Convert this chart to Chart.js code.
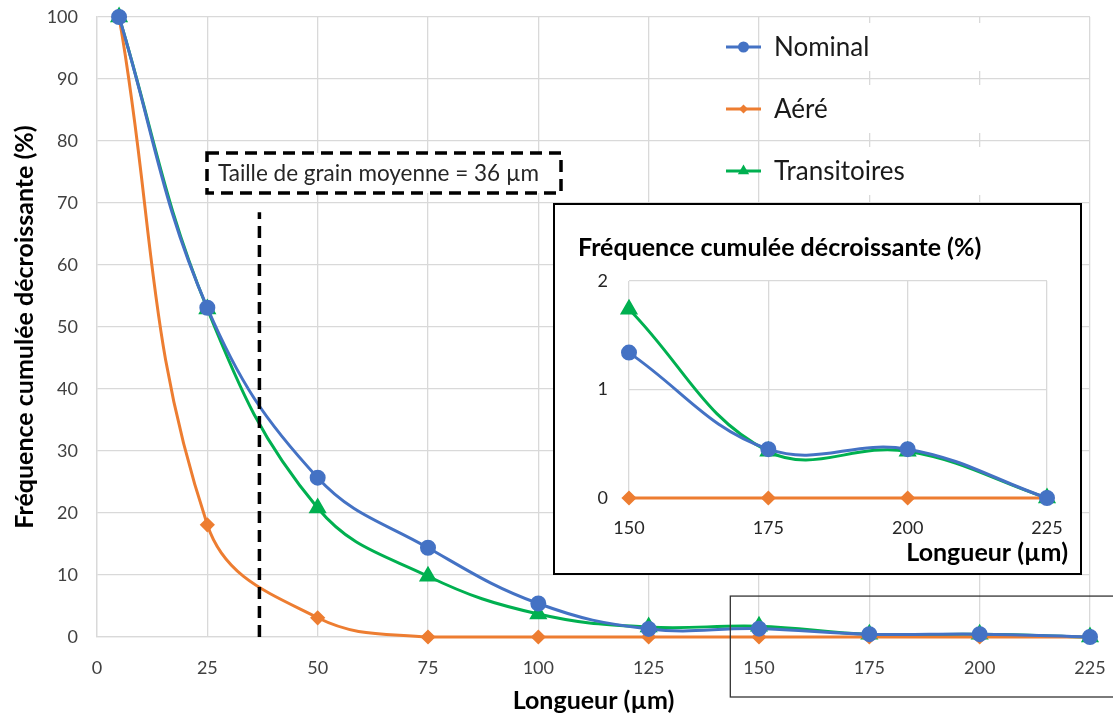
<!DOCTYPE html>
<html>
<head>
<meta charset="utf-8">
<script src="https://cdn.jsdelivr.net/npm/chart.js@4.4.1/dist/chart.umd.min.js"></script>
<style>
  html, body { margin: 0; padding: 0; background: #fff; }
  #wrap { position: relative; width: 1113px; height: 716px; overflow: hidden; }
  #main { position: absolute; left: 0; top: 0; }
  #insetBox { position: absolute; left: 553px; top: 203px; width: 529px; height: 372px;
    box-sizing: border-box; border: 2px solid #000; background: #fff; }
  #inset { display: block; }
</style>
</head>
<body>
<div id="wrap">
  <canvas id="main" width="1113" height="716"></canvas>
  <div id="insetBox"><canvas id="inset" width="525" height="368"></canvas></div>
</div>
<script>
// longueur des grains (µm) et frequence cumulee decroissante (%)
const lengths = [5, 25, 50, 75, 100, 125, 150, 175, 200, 225]
const nominal = [100, 53.1, 25.7, 14.4, 5.4, 1.3, 1.34, 0.45, 0.45, 0]
const aere = [100, 18.1, 3.1, 0, 0, 0, 0, 0, 0, 0]
const transitoires = [100, 52.9, 20.8, 9.8, 3.7, 1.6, 1.74, 0.43, 0.43, 0]

const seriesNames = ['Nominal', 'Aéré', 'Transitoires']
const seriesColors = ['#4472C4', '#ED7D31', '#00B050']
const pointStyles = ['circle', 'rectRot', 'triangle']
const pointSizes = [6.5, 5.5, 7.5]

const meanGrain = 36.8     // position of the dashed line
const meanGrainTop = 68.5  // dashed line stops under the label
const insetFrom = 150      // inset shows the tail of the curves
const zoomFrom = 143.5
const zoomTop = 6.6

const FONT = 'Lato, "Open Sans", sans-serif'
const GRID = '#D9D9D9'

function makeDatasets(fromIdx) {
  const all = [nominal, aere, transitoires]
  return all.map((vals, i) => ({
    label: seriesNames[i],
    data: lengths.slice(fromIdx).map((x, k) => ({ x: x, y: vals[fromIdx + k] })),
    borderColor: seriesColors[i],
    backgroundColor: seriesColors[i],
    borderWidth: 3,
    pointStyle: pointStyles[i],
    pointRadius: pointSizes[i],
    pointHoverRadius: pointSizes[i],
    tension: 0.4,
    clip: false
  }))
}

// keep the plot area where I put it, no extra room for edge labels
function fixV(width) {
  return s => { s.width = width; s.paddingTop = 0; s.paddingBottom = 0 }
}
function fixH(height) {
  return s => { s.height = height; s.paddingLeft = 0; s.paddingRight = 0 }
}

// legend + mean grain marker + zoom frame, drawn on the main chart
const mainExtras = {
  id: 'mainExtras',
  afterDatasetsDraw(chart) {
    const ctx = chart.ctx
    const xs = chart.scales.x
    const ys = chart.scales.y
    ctx.save()

    // dashed line at the mean grain size
    const gx = xs.getPixelForValue(meanGrain)
    ctx.strokeStyle = '#000'
    ctx.lineWidth = 3.5
    ctx.setLineDash([12, 7])
    ctx.beginPath()
    ctx.moveTo(gx, ys.getPixelForValue(0))
    ctx.lineTo(gx, ys.getPixelForValue(meanGrainTop))
    ctx.stroke()

    // label box
    ctx.fillStyle = '#fff'
    ctx.fillRect(207, 153, 354, 40)
    ctx.strokeRect(207, 153, 354, 40)
    ctx.setLineDash([])
    ctx.fillStyle = '#262626'
    ctx.font = '22.5px ' + FONT
    ctx.textBaseline = 'middle'
    ctx.fillText('Taille de grain moyenne = 36 µm', 218, 174)

    // zoom frame around the tail
    ctx.strokeStyle = '#333'
    ctx.lineWidth = 1.3
    const zx = xs.getPixelForValue(zoomFrom)
    const zy = ys.getPixelForValue(zoomTop)
    ctx.strokeRect(zx, zy, chart.width + 10 - zx, 697 - zy)

    // legend
    seriesNames.forEach((name, i) => {
      const y = 47 + 62 * i
      ctx.fillStyle = '#fff'
      ctx.fillRect(765, y - 24, 245, 48)
      ctx.strokeStyle = seriesColors[i]
      ctx.lineWidth = 3
      ctx.beginPath()
      ctx.moveTo(726, y)
      ctx.lineTo(761, y)
      ctx.stroke()
      ctx.fillStyle = seriesColors[i]
      Chart.helpers.drawPoint(ctx, { pointStyle: pointStyles[i], radius: pointSizes[i] - 1, rotation: 0 }, 743.5, y)
      ctx.fillStyle = '#1a1a1a'
      ctx.font = '26px ' + FONT
      ctx.fillText(name, 774, y + 1)
    })
    ctx.restore()
  }
}

new Chart(document.getElementById('main'), {
  type: 'line',
  data: { datasets: makeDatasets(0) },
  plugins: [mainExtras],
  options: {
    responsive: false,
    animation: false,
    layout: { autoPadding: false, padding: { top: 17, right: 23, left: 0, bottom: 0 } },
    plugins: { legend: { display: false }, tooltip: { enabled: false } },
    scales: {
      x: {
        type: 'linear', min: 0, max: 225,
        afterFit: fixH(79),
        grid: { color: GRID, lineWidth: 1.3, drawTicks: false },
        border: { color: GRID, width: 1.3 },
        ticks: { stepSize: 25, padding: 20, color: '#404040', font: { family: FONT, size: 18 } },
        title: { display: true, text: 'Longueur (µm)', color: '#000',
          font: { family: FONT, size: 25, weight: 'bold' }, padding: { top: 0, bottom: 0 } }
      },
      y: {
        min: 0, max: 100,
        afterFit: fixV(97),
        grid: { color: GRID, lineWidth: 1.3, drawTicks: false },
        border: { color: GRID, width: 1.3 },
        ticks: { stepSize: 10, padding: 19, color: '#404040', font: { family: FONT, size: 18 } },
        title: { display: true, text: 'Fréquence cumulée décroissante (%)', color: '#000',
          font: { family: FONT, size: 25, weight: 'bold' }, padding: { top: 10, bottom: 0 } }
      }
    }
  }
})

// inset titles
const insetText = {
  id: 'insetText',
  afterDraw(chart) {
    const ctx = chart.ctx
    ctx.save()
    ctx.fillStyle = '#000'
    ctx.font = 'bold 25px ' + FONT
    ctx.textBaseline = 'middle'
    ctx.textAlign = 'left'
    ctx.fillText('Fréquence cumulée décroissante (%)', 23, 43)
    ctx.textAlign = 'right'
    ctx.fillText('Longueur (µm)', 513, 348)
    ctx.restore()
  }
}

const startIdx = lengths.indexOf(insetFrom)
new Chart(document.getElementById('inset'), {
  type: 'line',
  data: { datasets: makeDatasets(startIdx) },
  plugins: [insetText],
  options: {
    responsive: false,
    animation: false,
    layout: { autoPadding: false, padding: { top: 76, right: 33, left: 0, bottom: 0 } },
    plugins: { legend: { display: false }, tooltip: { enabled: false } },
    scales: {
      x: {
        type: 'linear', min: 150, max: 225,
        afterFit: fixH(75),
        grid: { color: GRID, lineWidth: 1.3, drawTicks: false },
        border: { display: false },
        ticks: { stepSize: 25, padding: 19, color: '#262626', font: { family: FONT, size: 18 } }
      },
      y: {
        min: 0, max: 2,
        afterFit: fixV(74),
        grid: { color: GRID, lineWidth: 1.3, drawTicks: false },
        border: { display: false },
        ticks: { stepSize: 1, padding: 21, color: '#262626', font: { family: FONT, size: 18 } }
      }
    }
  }
})
</script>
</body>
</html>
